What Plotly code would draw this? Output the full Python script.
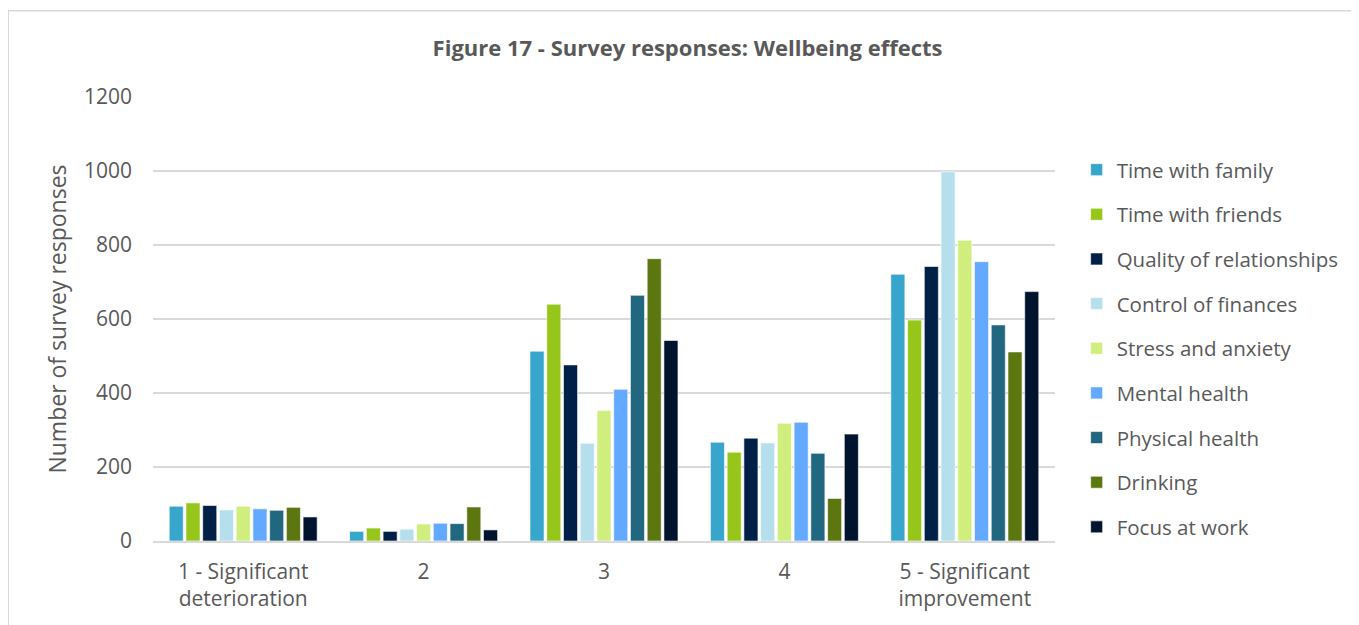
import plotly.graph_objects as go

categories = ["1 - Significant<br>deterioration", "2", "3", "4", "5 - Significant<br>improvement"]
series_names = ["Time with family", "Time with friends", "Quality of relationships",
                "Control of finances", "Stress and anxiety", "Mental health",
                "Physical health", "Drinking", "Focus at work"]
time_with_family = [94, 26, 513, 267, 721]
time_with_friends = [103, 35, 640, 240, 597]
quality_of_relationships = [96, 26, 476, 278, 742]
control_of_finances = [84, 32, 264, 265, 998]
stress_and_anxiety = [94, 46, 353, 318, 813]
mental_health = [87, 48, 410, 321, 755]
physical_health = [83, 47, 664, 237, 584]
drinking = [91, 92, 763, 115, 511]
focus_at_work = [65, 30, 542, 289, 674]

values = [time_with_family, time_with_friends, quality_of_relationships,
          control_of_finances, stress_and_anxiety, mental_health,
          physical_health, drinking, focus_at_work]
colors = ["#38A6CC", "#97C61A", "#012047", "#B5DFED", "#D0EE7E",
          "#63A9FF", "#20677F", "#5C7710", "#01142E"]

FONT = "'Open Sans', sans-serif"
TXT = "#595959"

fig = go.Figure()
for i, (name, vals, col) in enumerate(zip(series_names, values, colors)):
    fig.add_trace(go.Bar(
        name=name, x=categories, y=vals,
        marker=dict(color=col, line=dict(color="rgba(255,255,255,0.6)", width=1)),
        legendgroup=f"g{i}",
    ))

fig.update_layout(
    width=1351, height=617,
    barmode="group", bargap=0.165, bargroupgap=0.16,
    plot_bgcolor="white", paper_bgcolor="white",
    margin=dict(l=145, r=304, t=89, b=84),
    font=dict(family=FONT, color=TXT, size=21),
    title=dict(text="<b>Figure 17 - Survey responses: Wellbeing effects</b>",
               x=0.503, xanchor="center", y=0.935, yanchor="middle",
               font=dict(family=FONT, size=22, color=TXT)),
    legend=dict(x=1.024, xanchor="left", y=0.881, yanchor="top",
                font=dict(family=FONT, size=20.5, color=TXT),
                tracegroupgap=15, itemwidth=30, borderwidth=0,
                bgcolor="rgba(0,0,0,0)"),
    showlegend=True,
    shapes=[dict(type="rect", xref="paper", yref="paper",
                 x0=-0.1605, x1=1.4, y0=-0.2, y1=1.194,
                 line=dict(color="#D9D9D9", width=1.5), layer="below")],
)
fig.update_xaxes(showgrid=False, showline=True, linecolor="#D9D9D9", linewidth=1.5,
                 ticks="", ticklabelstandoff=11,
                 tickfont=dict(family=FONT, size=21, color=TXT))
fig.update_yaxes(range=[0, 1200], dtick=200, showgrid=True, gridcolor="#D9D9D9",
                 gridwidth=1.5, zeroline=False, showline=False, ticks="",
                 tickfont=dict(family=FONT, size=21, color=TXT), ticklabelstandoff=20,
                 title=dict(text="Number of survey responses", standoff=10,
                            font=dict(family=FONT, size=23, color=TXT)))

fig.write_html("out.html")
